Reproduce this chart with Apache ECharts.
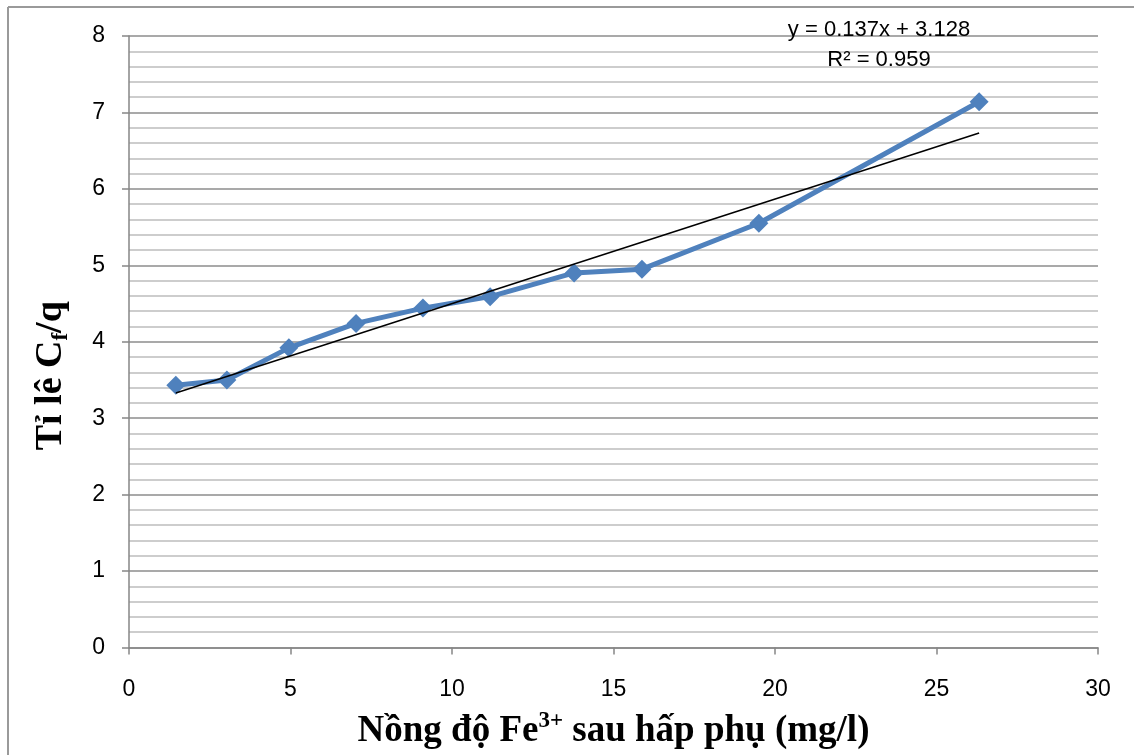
<!DOCTYPE html>
<html><head><meta charset="utf-8">
<script src="https://cdn.jsdelivr.net/npm/echarts@6/dist/echarts.min.js"></script>
<style>html,body{margin:0;padding:0;background:#fff}#c{width:1134px;height:755px}</style>
</head><body><div id="c"></div>
<script>
const xValues = [1.45, 3.03, 4.95, 7.03, 9.10, 11.18, 13.78, 15.88, 19.50, 26.32];
const yValues = [3.43, 3.50, 3.92, 4.24, 4.44, 4.59, 4.90, 4.95, 5.55, 7.14];
const trendX = [1.45, 26.32];
const trendY = [3.33, 6.73];
const equationText = 'y = 0.137x + 3.128';
const r2Text = 'R² = 0.959';
const xTicks = [0, 5, 10, 15, 20, 25, 30];
const yTicks = [0, 1, 2, 3, 4, 5, 6, 7, 8];

const chart = echarts.init(document.getElementById('c'), null, {renderer: 'canvas'});
const tickFont = 'Liberation Sans';
chart.setOption({
  animation: false,
  backgroundColor: '#fff',
  grid: {left: 129, top: 36, right: 36, bottom: 105, containLabel: false},
  xAxis: {
    type: 'value', min: xTicks[0], max: xTicks[xTicks.length-1], interval: 5,
    axisLine: {show: true, onZero: false, lineStyle: {color: '#868686', width: 1.5}},
    axisTick: {show: true, length: 7, lineStyle: {color: '#868686', width: 1.5}},
    axisLabel: {color: '#000', fontSize: 23, fontFamily: tickFont, margin: 31},
    splitLine: {show: false},
    name: '{m|Nồng độ Fe}{s|3+}{m| sau hấp phụ (mg/l)}',
    nameLocation: 'middle', nameGap: 62,
    nameTextStyle: {
      rich: {
        m: {fontFamily: 'Liberation Serif', fontWeight: 'bold', fontSize: 37, color: '#000', lineHeight: 44},
        s: {fontFamily: 'Liberation Serif', fontWeight: 'bold', fontSize: 23, color: '#000', lineHeight: 44, verticalAlign: 'top', padding: [0,0,14,0]}
      }
    }
  },
  yAxis: {
    type: 'value', min: yTicks[0], max: yTicks[yTicks.length-1], interval: 1,
    axisLine: {show: true, lineStyle: {color: '#868686', width: 1.5}},
    axisTick: {show: true, length: 7, lineStyle: {color: '#868686', width: 1.5}},
    axisLabel: {color: '#000', fontSize: 23, fontFamily: tickFont, margin: 24},
    splitLine: {show: true, lineStyle: {color: '#8c8c8c', width: 1.5}},
    minorTick: {show: false, splitNumber: 5},
    minorSplitLine: {show: true, lineStyle: {color: '#bdbdbd', width: 1.5}},
    name: '{m|Tỉ lê C}{s|f}{m|/q}',
    nameLocation: 'middle', nameGap: 56, nameRotate: 90,
    nameTextStyle: {
      padding: [0, 68, 0, 0],
      rich: {
        m: {fontFamily: 'Liberation Serif', fontWeight: 'bold', fontSize: 38, color: '#000', lineHeight: 44},
        s: {fontFamily: 'Liberation Serif', fontWeight: 'bold', fontSize: 23, color: '#000', lineHeight: 44, verticalAlign: 'bottom', padding: [14,0,0,0]}
      }
    }
  },
  series: [
    {
      type: 'line', data: xValues.map((x, i) => [x, yValues[i]]),
      lineStyle: {color: '#4F81BD', width: 5},
      itemStyle: {color: '#4F81BD'},
      symbol: 'diamond', symbolSize: 19, showSymbol: true, z: 3
    },
    {
      type: 'line', data: trendX.map((x, i) => [x, trendY[i]]),
      lineStyle: {color: '#000', width: 1.5}, symbol: 'none', z: 4
    }
  ],
  graphic: [
    {type: 'line', shape: {x1: 8, y1: 7, x2: 1134, y2: 7}, style: {stroke: '#9a9a9a', lineWidth: 2}},
    {type: 'line', shape: {x1: 8, y1: 7, x2: 8, y2: 755}, style: {stroke: '#9a9a9a', lineWidth: 2}},
    {type: 'text', x: 879, y: 30, style: {text: equationText, font: '22px "Liberation Sans"', fill: '#000', align: 'center', verticalAlign: 'middle'}, z: 10},
    {type: 'text', x: 879, y: 60, style: {text: r2Text, font: '22px "Liberation Sans"', fill: '#000', align: 'center', verticalAlign: 'middle'}, z: 10}
  ]
});
</script></body></html>
